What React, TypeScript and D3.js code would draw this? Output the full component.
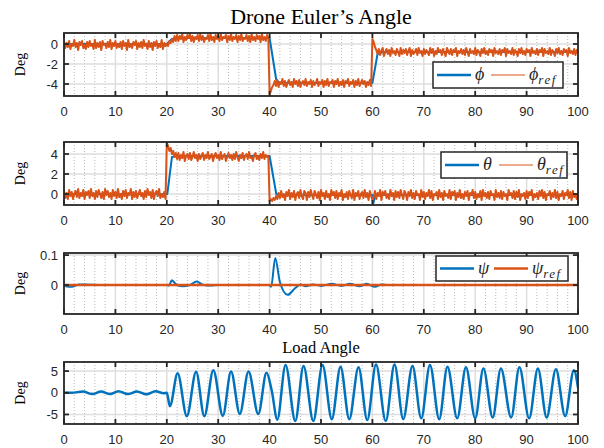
import React from 'react';
import * as d3 from 'd3';

const W = 604;
const H = 448;

// sample times of the noisy reference signals (0.25 s)
const time = d3.range(0, 100.1, 0.25);

const phiRef = [
  // 0 - 19.75
  0.2, -0.4, 0.1, -0.3, 0.3, -0.5, 0.0, -0.2, 0.4, -0.3, 0.1, -0.6, 0.2, -0.1, 0.3, -0.4, -0.1, -0.5, 0.2, -0.3,
  0.3, -0.2, 0.0, -0.5, 0.4, -0.4, 0.1, -0.3, 0.2, -0.6, 0.3, -0.1, 0.0, -0.4, 0.2, -0.3, 0.4, -0.5, 0.1, -0.2,
  0.3, -0.4, 0.0, -0.3, 0.2, -0.5, 0.3, -0.2, 0.1, -0.6, 0.4, -0.3, 0.0, -0.4, 0.2, -0.1, 0.3, -0.5, 0.1, -0.3,
  0.2, -0.4, 0.4, -0.2, 0.0, -0.5, 0.3, -0.3, 0.1, -0.6, 0.2, -0.2, 0.3, -0.4, 0.0, -0.3, 0.4, -0.5, 0.1, -0.2,
  // 20 - 21.75
  0.0, -0.2, 0.3, 0.1, 0.5, 0.2, 0.8, 0.3,
  // 22 - 39.75
  0.9, 0.3, 0.8, 0.5, 1.0, 0.2, 0.7, 0.4, 0.9, 0.6, 1.0, 0.3, 0.8, 0.2, 0.7, 0.5, 0.9, 0.3, 1.0, 0.4,
  0.8, 0.2, 0.6, 0.5, 0.9, 0.3, 1.0, 0.4, 0.7, 0.2, 0.9, 0.5, 0.8, 0.3, 1.0, 0.4, 0.7, 0.6, 0.9, 0.2,
  0.8, 0.4, 1.0, 0.3, 0.7, 0.5, 0.9, 0.2, 0.8, 0.4, 1.0, 0.3, 0.6, 0.5, 0.9, 0.3, 0.8, 0.2, 1.0, 0.4,
  0.7, 0.3, 0.9, 0.5, 0.8, 0.2, 1.0, 0.4, 0.7, 0.3, 0.9, 0.6,
  // 40 - 59.75
  -5.0, -4.7, -4.3, -4.1, -3.7, -4.2, -3.6, -4.3, -3.8, -4.0, -3.5, -4.2, -3.7, -4.3, -3.9, -3.6, -4.1, -3.8, -4.3, -3.5,
  -4.0, -3.7, -4.2, -3.6, -4.3, -3.9, -3.7, -4.1, -3.5, -4.2, -3.8, -4.0, -3.6, -4.3, -3.7, -4.1, -3.9, -3.5, -4.2, -3.8,
  -4.0, -3.6, -4.3, -3.7, -4.1, -3.5, -4.2, -3.8, -3.9, -3.6, -4.3, -3.7, -4.0, -3.5, -4.2, -3.8, -4.1, -3.6, -4.3, -3.7,
  -3.9, -3.5, -4.2, -3.8, -4.0, -3.6, -4.3, -3.7, -4.1, -3.5, -4.2, -3.9, -3.6, -4.0, -3.7, -4.3, -3.8, -4.1, -3.6, -4.2,
  // 60 - 100
  0.5, 0.2, -0.3, -0.6, -1.0, -0.5, -1.1, -0.7, -0.4, -1.2, -0.8, -0.5, -1.0, -0.6, -1.2, -0.4, -0.9, -0.7, -1.1, -0.5,
  -0.8, -1.2, -0.4, -1.0, -0.6, -0.9, -0.5, -1.1, -0.7, -0.4, -1.2, -0.6, -1.0, -0.8, -0.5, -1.1, -0.4, -0.9, -0.7, -1.2,
  -0.5, -1.0, -0.6, -0.8, -1.1, -0.4, -0.9, -0.5, -1.2, -0.7, -1.0, -0.4, -0.8, -0.6, -1.1, -0.5, -0.9, -1.2, -0.4, -0.7,
  -1.0, -0.5, -1.1, -0.6, -0.8, -0.4, -1.2, -0.7, -0.9, -0.5, -1.0, -0.6, -1.1, -0.4, -0.8, -1.2, -0.5, -0.9, -0.7, -1.0,
  -0.4, -1.1, -0.6, -0.8, -1.2, -0.5, -0.9, -0.4, -1.0, -0.7, -1.1, -0.5, -0.8, -0.6, -1.2, -0.4, -0.9, -0.7, -1.0, -0.5,
  -1.1, -0.6, -0.8, -0.4, -1.2, -0.5, -0.9, -0.7, -1.0, -0.4, -1.1, -0.6, -0.8, -1.2, -0.5, -0.9, -0.4, -1.0, -0.7, -1.1,
  -0.5, -0.8, -0.6, -1.2, -0.4, -0.9, -0.7, -1.0, -0.5, -1.1, -0.6, -0.8, -0.4, -1.2, -0.5, -0.9, -0.7, -1.0, -0.4, -1.1,
  -0.6, -0.8, -1.2, -0.5, -0.9, -0.4, -1.0, -0.7, -1.1, -0.5, -0.8, -0.6, -1.2, -0.4, -0.9, -0.7, -1.0, -0.5, -1.1, -0.6,
  -0.8,
];

const thetaRef = [
  // 0 - 19.75
  0.3, -0.4, 0.1, -0.5, 0.4, -0.2, 0.2, -0.5, 0.0, 0.3, -0.3, 0.5, -0.4, 0.1, -0.2, 0.4, -0.5, 0.2, -0.1, 0.3,
  -0.4, 0.5, -0.2, 0.1, -0.5, 0.3, -0.3, 0.4, 0.0, -0.4, 0.2, -0.5, 0.5, -0.1, 0.3, -0.3, 0.1, -0.5, 0.4, -0.2,
  0.2, -0.4, 0.5, -0.3, 0.0, -0.5, 0.3, -0.2, 0.4, -0.4, 0.1, -0.1, 0.5, -0.5, 0.2, -0.3, 0.3, -0.4, 0.0, 0.4,
  -0.2, 0.1, -0.5, 0.3, -0.3, 0.5, -0.1, 0.2, -0.4, 0.4, -0.5, 0.1, 0.3, -0.2, 0.5, -0.4, 0.0, -0.3, 0.2, -0.5,
  // 20 - 21.75
  5.1, 4.8, 4.3, 4.6, 4.0, 4.3, 3.7, 4.1,
  // 22 - 39.75
  3.5, 4.1, 3.4, 3.9, 3.6, 4.2, 3.3, 3.8, 4.0, 3.5, 4.1, 3.4, 3.7, 4.2, 3.6, 3.9, 3.3, 4.0, 3.5, 3.8,
  4.1, 3.4, 3.9, 3.6, 4.2, 3.5, 3.7, 4.0, 3.3, 3.8, 4.1, 3.6, 3.9, 3.4, 4.2, 3.5, 3.8, 4.0, 3.3, 3.7,
  4.1, 3.6, 3.9, 3.4, 4.0, 3.5, 4.2, 3.7, 3.3, 3.9, 3.6, 4.1, 3.4, 3.8, 4.0, 3.5, 4.2, 3.6, 3.7, 3.3,
  3.9, 4.1, 3.5, 3.8, 3.4, 4.0, 3.6, 4.2, 3.5, 3.9, 3.7, 3.8,
  // 40 - 59.75
  -0.7, -0.5, -0.7, -0.4, -0.6, -0.2, -0.5, 0.1, -0.4, 0.3, -0.3, 0.0, -0.6, 0.2, -0.2, 0.4, -0.5, 0.1, -0.3, 0.3,
  -0.6, 0.0, 0.2, -0.4, 0.4, -0.2, -0.5, 0.3, 0.1, -0.6, 0.2, -0.3, 0.4, -0.1, -0.5, 0.3, 0.0, -0.4, 0.2, -0.6,
  0.4, -0.2, 0.1, -0.5, 0.3, -0.3, 0.0, -0.6, 0.4, -0.1, 0.2, -0.4, 0.3, -0.5, 0.1, -0.2, 0.4, -0.6, 0.0, -0.3,
  0.2, -0.5, 0.3, -0.1, -0.4, 0.4, -0.6, 0.1, -0.2, 0.3, -0.5, 0.0, 0.2, -0.4, 0.4, -0.3, 0.1, -0.6, 0.3, -0.2,
  // 60 - 100
  -0.6, -0.3, 0.3, -0.5, 0.1, -0.2, 0.4, -0.6, 0.2, -0.1, 0.3, -0.4, 0.0, -0.5, 0.4, -0.2, 0.1, -0.6, 0.3, -0.3,
  0.2, -0.4, 0.4, -0.1, -0.5, 0.3, 0.0, -0.6, 0.2, -0.2, 0.4, -0.4, 0.1, -0.5, 0.3, -0.1, 0.0, -0.6, 0.4, -0.3,
  0.2, -0.5, 0.1, -0.2, 0.4, -0.4, 0.3, -0.6, 0.0, -0.1, 0.2, -0.5, 0.4, -0.3, 0.1, -0.6, 0.3, -0.2, 0.0, -0.4,
  0.4, -0.5, 0.2, -0.1, 0.3, -0.6, 0.1, -0.3, 0.4, -0.4, 0.0, -0.5, 0.2, -0.2, 0.3, -0.6, 0.1, -0.1, 0.4, -0.4,
  0.2, -0.5, 0.0, -0.3, 0.3, -0.6, 0.4, -0.2, 0.1, -0.4, 0.2, -0.5, 0.3, -0.1, 0.0, -0.6, 0.4, -0.3, 0.1, -0.4,
  0.3, -0.5, 0.2, -0.2, 0.0, -0.6, 0.4, -0.1, 0.1, -0.4, 0.3, -0.5, 0.2, -0.3, 0.4, -0.6, 0.0, -0.2, 0.1, -0.5,
  0.3, -0.4, 0.2, -0.1, 0.4, -0.6, 0.0, -0.3, 0.1, -0.5, 0.3, -0.2, 0.4, -0.4, 0.2, -0.6, 0.0, -0.1, 0.3, -0.5,
  0.1, -0.3, 0.4, -0.4, 0.2, -0.6, 0.0, -0.2, 0.3, -0.5, 0.1, -0.1, 0.4, -0.4, 0.2, -0.6, 0.3, -0.3, 0.0, -0.5,
  0.1,
];

// drone response (blue)
const phiT = [0, 20, 21, 22, 40, 41.3, 42, 60, 61, 62, 100];
const phiV = [0, 0, 0.5, 0.6, 0.6, -3.6, -3.9, -3.9, -1.0, -0.8, -0.8];
const thetaT = [0, 20.1, 21, 22, 40, 41.3, 42, 60, 60.2, 60.5, 100];
const thetaV = [0, 0, 3.7, 3.8, 3.8, 0, -0.1, -0.1, -0.9, -0.1, -0.1];

const psiT = [0, 0.5, 1.5, 3, 5, 8, 20, 20.4, 21, 21.8, 23, 24.5, 25.8, 27, 28.5, 30, 40, 40.3, 41.1, 42, 43.5, 45, 46,
  47, 48.5, 50, 52.1, 54, 55.6, 57.5, 58.9, 60.5, 61.8, 63, 100];
const psiV = [0, -0.005, -0.006, 0.002, 0.001, 0, 0, -0.002, 0.016, 0.002, -0.004, 0, 0.012, 0.001, -0.002, 0, 0, -0.006,
  0.09, 0.01, -0.033, -0.01, 0.002, -0.004, 0.002, -0.003, 0.004, -0.003, 0.004, -0.004, 0.004, -0.006, 0.002, 0, 0];
const psiRefT = [0, 100];
const psiRefV = [0, 0];

const loadT = [0, 1.5, 3.7, 5.5, 7.2, 9, 10.6, 12.4, 14.2, 16, 17.8, 19.4, 20, 20.6, 22.1, 23.9, 25.7, 27.3, 29.05,
  30.9, 32.5, 34.2, 35.9, 37.8, 39.4, 40.4, 41.5, 43.1, 45.0, 46.6, 48.5, 50.3, 52.1, 53.8, 55.5, 57.3, 59.0, 60.7,
  62.6, 64.3, 66.0, 67.8, 69.5, 71.2, 73.0, 74.6, 76.5, 78.2, 80.0, 81.6, 83.4, 85.0, 87.0, 88.6, 90.5, 92.2, 93.9,
  95.7, 97.5, 99.2, 100];
const loadV = [0, 0, 0.3, -0.3, 0.3, -0.3, 0.35, -0.3, 0.3, -0.35, 0.35, -0.1, 0, -3.1, 4.5, -5.4, 4.85, -5.4, 5.2,
  -5.3, 4.9, -4.9, 4.9, -4.9, 4.6, 0.6, -6.2, 6.4, -6.5, 6.2, -6.5, 6.4, -6.1, 6.0, -6.1, 5.9, -6.3, 6.5, -6.5, 6.5,
  -6.1, 6.2, -5.9, 6.4, -6.1, 6.0, -5.9, 5.9, -5.9, 5.6, -5.7, 5.6, -5.7, 5.9, -5.9, 5.6, -5.7, 5.4, -5.4, 5.2, 1.2];

const xTicks = d3.range(0, 101, 10);
const xMinor = d3.range(0, 101, 2).filter(v => v % 10 !== 0);

const BLUE = '#0072BD';
const ORANGE = '#D95319';
const DARK = '#262626';
const SANS = 'Liberation Sans, Arial, sans-serif';
const SERIF = 'Liberation Serif, DejaVu Serif, serif';

const x = d3.scaleLinear().domain([0, 100]).range([64, 578]);

const Legend = ({ lx, ly, w, h, items }) => (
  <g>
    <rect x={lx} y={ly} width={w} height={h} fill="#fff" stroke={DARK} strokeWidth={1.5} />
    {items.map((it, i) => {
      const ox = i === 0 ? 4 : 58;
      const cy = ly + h / 2;
      return (
        <g key={i}>
          <line x1={lx + ox} x2={lx + ox + 34} y1={cy} y2={cy} stroke={it.color} strokeWidth={it.w} strokeOpacity={it.op || 1} />
          <text x={lx + ox + 38} y={cy + 5} fontFamily={SERIF} fontStyle="italic" fontSize={18} fill={DARK}>
            {it.sym}
            {it.sub && <tspan fontSize={13} dy={4} letterSpacing={1.5}>{it.sub}</tspan>}
          </text>
        </g>
      );
    })}
  </g>
);

const Panel = ({ id, top, bottom, domain, ticks, fmt, lines, legend, title }) => {
  const y = d3.scaleLinear().domain(domain).range([bottom, top]);
  const [x0, x1] = x.range();
  return (
    <g>
      <clipPath id={id}>
        <rect x={x0} y={top} width={x1 - x0} height={bottom - top} />
      </clipPath>
      {xMinor.map(v => (
        <line key={'m' + v} x1={x(v)} x2={x(v)} y1={top} y2={bottom} stroke="#b8b8b8" strokeWidth={1} strokeDasharray="1 2" />
      ))}
      {xTicks.map(v => (
        <line key={'g' + v} x1={x(v)} x2={x(v)} y1={top} y2={bottom} stroke="#dedede" strokeWidth={1.5} />
      ))}
      {ticks.map(v => (
        <line key={'h' + v} x1={x0} x2={x1} y1={y(v)} y2={y(v)} stroke="#dedede" strokeWidth={1.5} />
      ))}
      <g clipPath={`url(#${id})`}>
        {lines.map((s, i) => {
          const path = d3.line()
            .x((d, j) => x(s.t[j]))
            .y(d => y(d))
            .curve(s.curve || d3.curveLinear);
          return (
            <path key={i} d={path(s.v)} fill="none" stroke={s.color} strokeWidth={s.w} strokeLinejoin="round" strokeLinecap="round" />
          );
        })}
      </g>
      <rect x={x0} y={top} width={x1 - x0} height={bottom - top} fill="none" stroke={DARK} strokeWidth={1.8} />
      {xTicks.map(v => (
        <g key={'t' + v}>
          <line x1={x(v)} x2={x(v)} y1={bottom} y2={bottom - 5} stroke={DARK} strokeWidth={1.8} />
          <line x1={x(v)} x2={x(v)} y1={top} y2={top + 5} stroke={DARK} strokeWidth={1.8} />
          <text x={x(v)} y={bottom + 20} textAnchor="middle" fontFamily={SANS} fontSize={13} fill={DARK}>{v}</text>
        </g>
      ))}
      {ticks.map(v => (
        <g key={'yt' + v}>
          <line x1={x0} x2={x0 + 5} y1={y(v)} y2={y(v)} stroke={DARK} strokeWidth={1.8} />
          <line x1={x1} x2={x1 - 5} y1={y(v)} y2={y(v)} stroke={DARK} strokeWidth={1.8} />
          <text x={x0 - 6} y={y(v)} dy="0.36em" textAnchor="end" fontFamily={SANS} fontSize={13} fill={DARK}>{fmt(v)}</text>
        </g>
      ))}
      <text transform={`translate(25,${(top + bottom) / 2}) rotate(-90)`} textAnchor="middle" fontFamily={SERIF} fontSize={14} fill="#000">Deg</text>
      {title && (
        <text x={title.x} y={title.y} textAnchor="middle" fontFamily={SERIF} fontSize={title.size} fill="#000">{title.text}</text>
      )}
      {legend && <Legend {...legend} />}
    </g>
  );
};

const fmtInt = v => String(v);

export default function App() {
  return (
    <svg width={W} height={H} style={{ position: 'absolute', left: 0, top: 0, background: '#fff' }}>
      <rect width={W} height={H} fill="#fff" />
      <Panel
        id="c1" top={33} bottom={96} domain={[-5.2, 1.1]} ticks={[-4, -2, 0]} fmt={fmtInt}
        title={{ text: 'Drone Euler’s Angle', x: 321, y: 24, size: 22 }}
        lines={[
          { t: phiT, v: phiV, color: BLUE, w: 2 },
          { t: time, v: phiRef, color: ORANGE, w: 2 },
        ]}
        legend={{ lx: 433, ly: 62, w: 130, h: 26, items: [
          { sym: 'ϕ', color: BLUE, w: 2.5 },
          { sym: 'ϕ', sub: 'ref', color: ORANGE, w: 1 },
        ] }}
      />
      <Panel
        id="c2" top={142} bottom={205} domain={[-1.1, 5.2]} ticks={[0, 2, 4]} fmt={fmtInt}
        lines={[
          { t: thetaT, v: thetaV, color: BLUE, w: 2 },
          { t: time, v: thetaRef, color: ORANGE, w: 2 },
        ]}
        legend={{ lx: 441, ly: 152, w: 126, h: 26, items: [
          { sym: 'θ', color: BLUE, w: 2.5 },
          { sym: 'θ', sub: 'ref', color: ORANGE, w: 2, op: 0.5 },
        ] }}
      />
      <Panel
        id="c3" top={253} bottom={314} domain={[-0.097, 0.107]} ticks={[0, 0.1]} fmt={fmtInt}
        lines={[
          { t: psiT, v: psiV, color: BLUE, w: 2, curve: d3.curveMonotoneX },
          { t: psiRefT, v: psiRefV, color: ORANGE, w: 2.5 },
        ]}
        legend={{ lx: 436, ly: 256, w: 132, h: 25, items: [
          { sym: 'ψ', color: BLUE, w: 2.5 },
          { sym: 'ψ', sub: 'ref', color: ORANGE, w: 2.5 },
        ] }}
      />
      <Panel
        id="c4" top={362} bottom={424} domain={[-7.2, 7.1]} ticks={[-5, 0, 5]} fmt={fmtInt}
        title={{ text: 'Load Angle', x: 321, y: 353, size: 16.5 }}
        lines={[
          { t: loadT, v: loadV, color: BLUE, w: 2.5, curve: d3.curveMonotoneX },
        ]}
      />
    </svg>
  );
}
